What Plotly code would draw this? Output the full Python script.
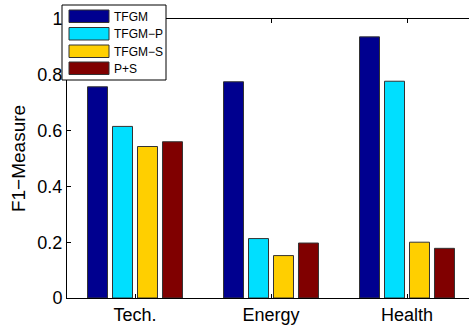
import plotly.graph_objects as go

categories = ["Tech.", "Energy", "Health"]
series_names = ["TFGM", "TFGM\u2212P", "TFGM\u2212S", "P+S"]
tfgm = [0.757, 0.775, 0.936]
tfgm_p = [0.615, 0.213, 0.777]
tfgm_s = [0.543, 0.152, 0.200]
p_s = [0.560, 0.197, 0.178]
y_ticks = [0, 0.2, 0.4, 0.6, 0.8, 1]
y_tick_labels = ["0", "0.2", "0.4", "0.6", "0.8", "1"]

series_values = [tfgm, tfgm_p, tfgm_s, p_s]
colors = ["#00008F", "#00DFFF", "#FFCF00", "#800000"]
x_pos = list(range(1, len(categories) + 1))

W, H = 469, 329
ML, MT, MB = 67, 19, 31
FONT = "Liberation Sans, Arial, sans-serif"

fig = go.Figure()
for name, vals, col in zip(series_names, series_values, colors):
    fig.add_trace(go.Bar(
        x=x_pos, y=vals, name=name, marker_color=col,
        marker_line=dict(color="#333333", width=1), showlegend=False,
    ))

# Legend box drawn in pixel units converted to paper coordinates
pw, ph = W - ML, H - MT - MB
def px(x):
    return (x - ML) / pw
def py(y):
    return 1 - (y - MT) / ph

shapes = [dict(type="rect", xref="paper", yref="paper",
               x0=px(62), x1=px(166), y0=py(80), y1=py(5),
               fillcolor="white", line=dict(color="black", width=1), layer="above")]
annotations = []
row_tops = [10, 27.5, 45, 62]
for i, (name, col) in enumerate(zip(series_names, colors)):
    t = row_tops[i]
    shapes.append(dict(type="rect", xref="paper", yref="paper",
                       x0=px(69), x1=px(109), y0=py(t + 12.5), y1=py(t),
                       fillcolor=col, line=dict(color="#333333", width=1), layer="above"))
    annotations.append(dict(xref="paper", yref="paper", x=px(112), y=py(t + 6.5),
                            text=name, showarrow=False, xanchor="left", yanchor="middle",
                            font=dict(family=FONT, size=12, color="black")))

fig.update_layout(
    width=W, height=H,
    margin=dict(l=ML, r=0, t=MT, b=MB),
    paper_bgcolor="white", plot_bgcolor="white",
    barmode="group", bargap=0.265, bargroupgap=0.2,
    font=dict(family=FONT, color="black"),
    shapes=shapes, annotations=annotations,
    xaxis=dict(
        range=[0.5, 0.5 + pw / 136], tickvals=x_pos, ticktext=categories,
        showline=True, linecolor="black", linewidth=1, mirror="ticks",
        ticks="inside", ticklen=4, tickcolor="black",
        showgrid=False, zeroline=False, tickfont=dict(size=18),
    ),
    yaxis=dict(
        range=[0, 1], tickvals=y_ticks, ticktext=y_tick_labels,
        showline=True, linecolor="black", linewidth=1,
        ticks="inside", ticklen=4, tickcolor="black",
        showgrid=False, zeroline=False, tickfont=dict(size=18),
        title=dict(text="F1\u2212Measure", font=dict(size=19), standoff=6),
    ),
)

fig.write_html("out.html")
